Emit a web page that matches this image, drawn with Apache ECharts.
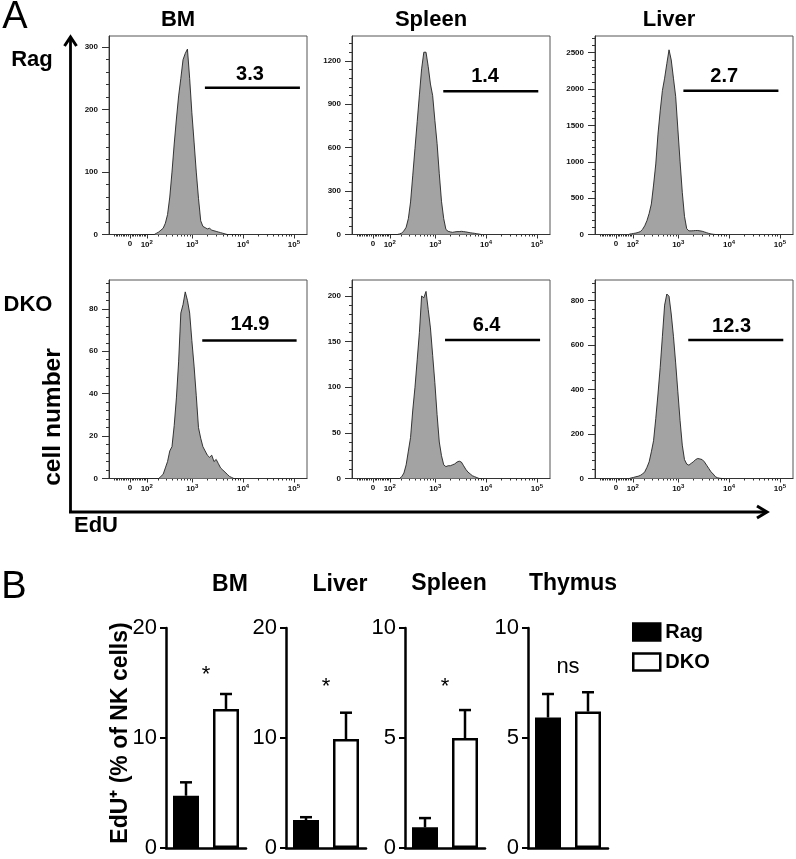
<!DOCTYPE html>
<html><head><meta charset="utf-8">
<script src="https://cdn.jsdelivr.net/npm/echarts@6/dist/echarts.min.js"></script>
<style>html,body{margin:0;padding:0;background:#fff}#c{width:796px;height:859px}</style>
</head><body><div id="c"></div>
<script>
// ---------- DATA ----------
// histogram bin centres, in biexponential display units  t = asinh(EdU / 120)
const binT = [0.6,0.7,0.8,0.9,1.0,1.1,1.2,1.3,1.4,1.5,1.6,1.7,1.8,1.9,2.0,2.1,2.2,2.3,2.4,2.5,2.6,2.7,2.8,2.9,3.0,3.1,3.2,3.3,3.4,3.5,3.6,3.7,3.8,3.9,4.0,4.1,4.2,4.3,4.4,4.5,4.6,4.7,4.8,4.9];
const histBMRag     = [0,0,0,0,0, 0,2,4,7, 10,18,32,60,100, 145,185,222,250,280, 290,297,250,195,148, 100,58,22,13,11, 9,10,7,6,5, 4,3,2,1,0, 0,0,0,0,0];
const histSpleenRag = [0,0,0,0,0, 0,4,10,25, 50,110,225,410,595, 780,965,1145,1260,1260, 1160,1040,960,790,630, 420,230,110,35,22, 18,15,18,20,20, 22,20,18,15,12, 10,8,5,3,0];
const histLiverRag  = [5,10,15,20,28, 40,70,120,190, 290,420,680,970,1380, 1700,1980,2150,2350,2540, 2400,2150,1900,1450,1000, 580,250,80,50,50, 52,55,55,50,45, 35,25,15,8,3, 0,0,0,0,0];
const histBMDKO     = [0,0,0,0,0, 0,0,0,1, 2,5,8,13,15, 25,38,55,78,82, 88,84,78,65,53, 39,24,19,15,13, 11,10,11,8,9, 7,5,4,3,2, 1,0.5,0,0,0];
const histSpleenDKO = [0,0,0,0,0, 0,0,2,6, 15,30,45,75,100, 130,160,200,198,205, 185,165,135,105,70, 40,25,15,13,14, 14,15,16,18,19, 18,14,10,7,5, 3,2,1,0,0];
const histLiverDKO  = [0,3,5,8,10, 14,20,30,50, 75,120,170,270,380, 500,640,780,830,820, 740,640,520,390,260, 150,85,65,60,68, 75,85,90,88,85, 75,60,45,30,20, 8,3,1,0,0];

const histYTicks = [[0,100,200,300],[0,300,600,900,1200],[0,500,1000,1500,2000,2500],[0,20,40,60,80],[0,50,100,150,200],[0,200,400,600,800]];
const xTickEdU  = [0, 100, 1000, 10000, 100000];
const xTickText = ['0', '10{s|2}', '10{s|3}', '10{s|4}', '10{s|5}'];
const xMinorEdU = [-90,-80,-70,-60,-50,-40,-30,-20,-10,10,20,30,40,50,60,70,80,90,200,300,400,500,600,700,800,900,2000,3000,4000,5000,6000,7000,8000,9000,20000,30000,40000,50000,60000,70000,80000,90000];

const gatePct    = ['3.3','1.4','2.7','14.9','6.4','12.3'];
const gateFrom   = [3.39, 3.18, 3.05, 3.27, 3.26, 3.27];
const gateTo     = [7.69, 7.48, 7.35, 7.54, 7.56, 7.57];
const gateLevel  = [235, 990, 1977, 65.1, 151.8, 623];
const gateLabelT = [5.43, 5.07, 4.90, 5.43, 5.14, 5.23];
const gateLabelY = [257, 1090, 2174, 72.6, 168, 686];

const colTitles = ['BM', 'Spleen', 'Liver'];
const rowTitles = ['Rag', 'DKO'];

// panel B
const organs   = ['BM', 'Liver', 'Spleen', 'Thymus'];
const groups   = ['Rag', 'DKO'];
const ragMean  = [4.75, 2.54, 0.94, 5.93];
const ragErr   = [1.22, 0.26, 0.42, 1.07];
const dkoMean  = [12.64, 9.9, 5.0, 6.2];
const dkoErr   = [1.36, 2.4, 1.27, 0.88];
const sigText  = ['*', '*', '*', 'ns'];
const sigLevel = [16.1, 15.0, 7.5, 8.24];
const barYTicks = [[0,10,20],[0,10,20],[0,5,10],[0,5,10]];

// ---------- LAYOUT ----------
const T = v => Math.asinh(v / 120);
const xMin = -0.95, xMax = 8.01;
const histLayout = [
  {left:109, top:36,  yMax:318},
  {left:352, top:36,  yMax:1372},
  {left:595, top:36,  yMax:2730},
  {left:109, top:280, yMax:93.6},
  {left:352, top:280, yMax:217.5},
  {left:595, top:280, yMax:893}
];
const histData = [histBMRag, histSpleenRag, histLiverRag, histBMDKO, histSpleenDKO, histLiverDKO];
const barLeft = [166, 286, 405, 528];
const FONT = 'Liberation Sans, Arial';

const grid = [], xAxis = [], yAxis = [], series = [];
const majorX = xTickEdU.map(T);
const fmtX = val => { const i = majorX.findIndex(x => Math.abs(x - val) < 1e-6); return i >= 0 ? xTickText[i] : ''; };

histLayout.forEach((L, i) => {
  grid.push({left:L.left, top:L.top, width:198, height:198.5, show:true, borderColor:'#555', borderWidth:1});
  xAxis.push({gridIndex:i, type:'value', position:'bottom', min:xMin, max:xMax,
    axisLine:{onZero:false, lineStyle:{color:'#333', width:1}}, splitLine:{show:false},
    axisTick:{customValues:majorX, length:4, lineStyle:{color:'#333', width:1}},
    axisLabel:{customValues:majorX, formatter:fmtX, fontSize:8, fontWeight:'bold', color:'#111', margin:5,
      fontFamily:FONT,
      rich:{s:{fontSize:6, fontWeight:'bold', color:'#111', padding:[0,0,5,0], fontFamily:FONT}}}});
  xAxis.push({gridIndex:i, type:'value', position:'bottom', min:xMin, max:xMax,
    axisLine:{show:false, onZero:false}, splitLine:{show:false},
    axisTick:{customValues:xMinorEdU.map(T), length:2, lineStyle:{color:'#333', width:1}},
    axisLabel:{show:false}});
  const yt = histYTicks[i];
  const major = yt[1] - yt[0];
  const step = major / 5;
  const minor = [];
  for (let k = 1; k * step <= L.yMax; k++) if (k % 5 !== 0) minor.push(k * step);
  yAxis.push({gridIndex:i, type:'value', position:'left', min:0, max:L.yMax,
    axisLine:{show:true, onZero:false, lineStyle:{color:'#333', width:1}}, splitLine:{show:false},
    axisTick:{customValues:yt, length:7, lineStyle:{color:'#333', width:1}},
    axisLabel:{customValues:yt, formatter:v => String(v), fontSize:8, fontWeight:'bold', color:'#111', margin:11, fontFamily:FONT}});
  yAxis.push({gridIndex:i, type:'value', position:'left', min:0, max:L.yMax,
    axisLine:{show:false, onZero:false}, splitLine:{show:false},
    axisTick:{customValues:minor, length:3, lineStyle:{color:'#333', width:1}},
    axisLabel:{show:false}});
  const d = histData[i];
  series.push({type:'line', name:'hist'+i, xAxisIndex:2*i, yAxisIndex:2*i, symbol:'none', silent:true,
    data:binT.map((t, k) => [t, d[k]]),
    lineStyle:{color:'#222', width:0.9}, areaStyle:{color:'#a3a3a3', opacity:1}});
  series.push({type:'line', name:'gate'+i, xAxisIndex:2*i, yAxisIndex:2*i, symbol:'none', silent:true,
    data:[[gateFrom[i], gateLevel[i]], [gateTo[i], gateLevel[i]]],
    lineStyle:{color:'#000', width:2.6}});
  series.push({type:'custom', name:'gl'+i, xAxisIndex:2*i, yAxisIndex:2*i, silent:true, z:5,
    data:[[gateLabelT[i], gateLabelY[i]]],
    renderItem:(params, api) => {
      const p = api.coord([api.value(0), api.value(1)]);
      return {type:'text', x:p[0], y:p[1],
        style:{text:gatePct[i], fill:'#000', font:'bold 20px "Liberation Sans", Arial', textAlign:'center', textVerticalAlign:'middle'}};
    }});
});

organs.forEach((o, j) => {
  const gi = 6 + j;
  const yt = barYTicks[j];
  grid.push({left:barLeft[j], top:628, width:80, height:220});
  xAxis.push({gridIndex:gi, type:'category', data:groups,
    axisLine:{lineStyle:{color:'#000', width:2.5}},
    axisTick:{alignWithLabel:true, length:6, lineStyle:{color:'#000', width:2}},
    axisLabel:{show:false}});
  yAxis.push({gridIndex:gi, type:'value', min:0, max:yt[yt.length-1], interval:yt[1]-yt[0],
    axisLine:{show:true, lineStyle:{color:'#000', width:2.5}}, splitLine:{show:false},
    axisTick:{show:true, length:6, lineStyle:{color:'#000', width:2}},
    axisLabel:{fontSize:22, color:'#000', margin:9, fontFamily:FONT}});
  const xi = 12 + j, yi = 12 + j;
  series.push({type:'custom', name:'err'+j, xAxisIndex:xi, yAxisIndex:yi, silent:true, z:1,
    data:[[0, ragMean[j], ragMean[j] + ragErr[j]], [1, dkoMean[j], dkoMean[j] + dkoErr[j]]],
    encode:{x:0, y:[1,2]},
    renderItem:(params, api) => {
      const p1 = api.coord([api.value(0), api.value(1)]);
      const p2 = api.coord([api.value(0), api.value(2)]);
      return {type:'group', children:[
        {type:'line', shape:{x1:p1[0], y1:p1[1], x2:p2[0], y2:p2[1]}, style:{stroke:'#000', lineWidth:2.5}},
        {type:'line', shape:{x1:p2[0]-6, y1:p2[1], x2:p2[0]+6, y2:p2[1]}, style:{stroke:'#000', lineWidth:2.5}}
      ]};
    }});
  series.push({type:'bar', name:'Rag', xAxisIndex:xi, yAxisIndex:yi, data:[ragMean[j], '-'], barWidth:26, barGap:'-100%', z:3,
    itemStyle:{color:'#000', borderColor:'#000', borderWidth:2.5}, silent:true});
  series.push({type:'bar', name:'DKO', xAxisIndex:xi, yAxisIndex:yi, data:['-', dkoMean[j]], barWidth:26, barGap:'-100%', z:3,
    itemStyle:{color:'#fff', borderColor:'#000', borderWidth:2.5}, silent:true});
  series.push({type:'custom', name:'sig'+j, xAxisIndex:xi, yAxisIndex:yi, silent:true, z:4,
    data:[[0, sigLevel[j]]],
    renderItem:(params, api) => {
      const a = api.coord([0, api.value(1)]);
      const b = api.coord([1, api.value(1)]);
      return {type:'text', x:(a[0]+b[0])/2, y:a[1] + (sigText[j] === '*' ? 4 : 0),
        style:{text:sigText[j], fill:'#000', font:'22px "Liberation Sans", Arial', textAlign:'center', textVerticalAlign:'middle'}};
    }});
});

const txt = (text, x, y, font, extra) => Object.assign({type:'text', x:x, y:y,
  style:{text:text, font:font, fill:'#000', textAlign:'center', textVerticalAlign:'middle'}}, extra || {});
const bold22 = 'bold 22px "Liberation Sans", Arial';
const graphic = [
  txt('A', 15, 18, '38px "Liberation Sans", Arial'),
  txt('B', 14, 588, '38px "Liberation Sans", Arial'),
  txt(colTitles[0], 178, 20, bold22),
  txt(colTitles[1], 431, 20, bold22),
  txt(colTitles[2], 669, 20, bold22),
  txt(rowTitles[0], 32, 60, bold22),
  txt(rowTitles[1], 28, 305, bold22),
  txt('cell number', 53, 417, 'bold 24.5px "Liberation Sans", Arial', {rotation:Math.PI/2}),
  txt('EdU', 96, 526, bold22),
  txt(organs[0], 230, 585, 'bold 23px "Liberation Sans", Arial'),
  txt(organs[1], 340, 585, 'bold 23px "Liberation Sans", Arial'),
  txt(organs[2], 449, 584, 'bold 23px "Liberation Sans", Arial'),
  txt(organs[3], 573, 584, 'bold 23px "Liberation Sans", Arial'),
  txt('EdU\u207A (% of NK cells)', 121, 733, 'bold 23px "Liberation Sans", Arial', {rotation:Math.PI/2}),
  {type:'polyline', shape:{points:[[70.5,512],[70.5,38]]}, style:{stroke:'#000', lineWidth:2.8, fill:null}},
  {type:'polyline', shape:{points:[[69,512],[766,512]]}, style:{stroke:'#000', lineWidth:2.8, fill:null}},
  {type:'polyline', shape:{points:[[64.5,46],[70.5,37],[76.5,46]]}, style:{stroke:'#000', lineWidth:3, fill:null}},
  {type:'polyline', shape:{points:[[757,506],[767,512],[757,518]]}, style:{stroke:'#000', lineWidth:3, fill:null}}
];

const chart = echarts.init(document.getElementById('c'), null, {renderer:'canvas'});
chart.setOption({
  backgroundColor:'#fff',
  animation:false,
  textStyle:{fontFamily:FONT},
  grid:grid, xAxis:xAxis, yAxis:yAxis, series:series,
  legend:{data:[{name:'Rag', itemStyle:{color:'#000', borderColor:'#000', borderWidth:2.5}},
                {name:'DKO', itemStyle:{color:'#fff', borderColor:'#000', borderWidth:2.5}}],
    orient:'vertical', left:627, top:617, itemWidth:27, itemHeight:17, itemGap:10, icon:'rect', selectedMode:false,
    textStyle:{fontSize:20, fontWeight:'bold', color:'#000', fontFamily:FONT}},
  graphic:graphic
});
</script></body></html>
